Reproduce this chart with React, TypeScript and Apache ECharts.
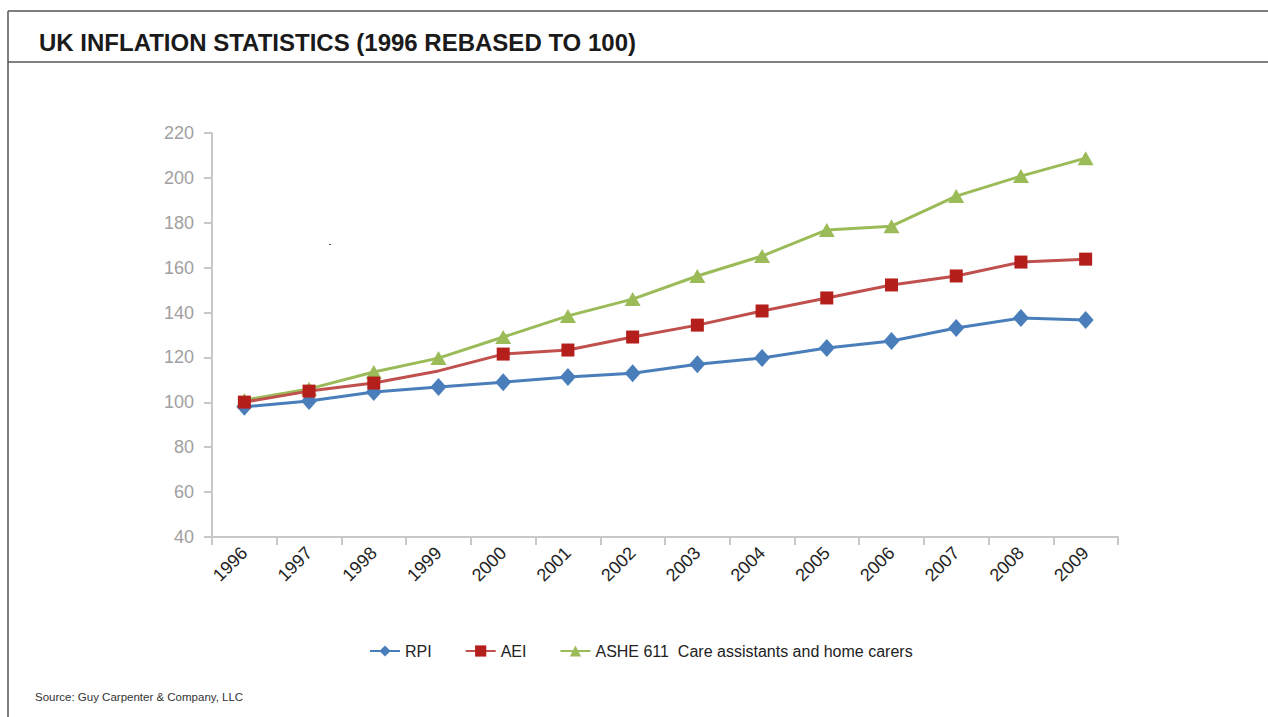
import React, { useEffect, useRef } from "react";
import * as echarts from "echarts";

const years = ["1996", "1997", "1998", "1999", "2000", "2001", "2002", "2003", "2004", "2005", "2006", "2007", "2008", "2009"];
const rpi = [98, 100.6, 104.6, 106.8, 109, 111.3, 113, 117, 119.7, 124.2, 127.3, 133.1, 137.6, 136.7];
const aei = [100.1, 105, 108.6, 114, 121.5, 123.3, 129.1, 134.4, 140.7, 146.5, 152.3, 156.3, 162.5, 163.8];
const ashe = [101, 106, 113.5, 119.7, 129.1, 138.5, 146, 156.3, 165.2, 176.8, 178.5, 191.9, 200.8, 208.8];
const seriesNames = ["RPI", "AEI", "ASHE 611  Care assistants and home carers"];
const aeiHiddenMarker = 3; // 1999 has no marker in the reference

export default function App() {
  const ref = useRef<HTMLDivElement>(null);
  useEffect(() => {
    if (!ref.current) return;
    const chart = echarts.init(ref.current, null, { renderer: "svg" });
    const font = "'Liberation Sans', Arial, sans-serif";
    chart.setOption({
      animation: false,
      backgroundColor: "#ffffff",
      textStyle: { fontFamily: font },
      title: {
        text: "UK INFLATION STATISTICS (1996 REBASED TO 100)",
        left: 34,
        top: 25,
        textStyle: { fontFamily: font, fontSize: 24, fontWeight: "bold", color: "#1a1a1a" },
      },
      grid: { left: 212, right: 150, top: 133, bottom: 180, containLabel: false },
      legend: {
        left: 364,
        top: 638,
        itemWidth: 30,
        itemHeight: 14,
        itemGap: 33,
        textStyle: { fontFamily: font, fontSize: 16, color: "#222" },
        data: seriesNames,
      },
      xAxis: {
        type: "category",
        data: years,
        boundaryGap: true,
        axisLine: { show: true, lineStyle: { color: "#c8c8c8", width: 2 } },
        axisTick: { show: true, length: 8, lineStyle: { color: "#c8c8c8", width: 2 } },
        axisLabel: { rotate: 45, fontSize: 18, color: "#222", margin: 13, interval: 0, fontFamily: font },
        splitLine: { show: false },
      },
      yAxis: {
        type: "value",
        min: 40,
        max: 220,
        interval: 20,
        axisLine: { show: true, lineStyle: { color: "#c8c8c8", width: 2 } },
        axisTick: { show: true, length: 8, lineStyle: { color: "#c8c8c8", width: 2 } },
        axisLabel: { fontSize: 18, color: "#a0a0a0", margin: 18, fontFamily: font },
        splitLine: { show: false },
      },
      series: [
        {
          name: seriesNames[0],
          type: "line",
          data: rpi,
          symbol: "diamond",
          symbolSize: [16, 18],
          lineStyle: { color: "#4a7ebb", width: 3 },
          itemStyle: { color: "#4a7ebb" },
          z: 3,
        },
        {
          name: seriesNames[1],
          type: "line",
          data: aei.map((v, i) => (i === aeiHiddenMarker ? { value: v, symbol: "none" } : v)),
          symbol: "rect",
          symbolSize: 13,
          lineStyle: { color: "#c0504d", width: 3 },
          itemStyle: { color: "#b41f1c" },
          z: 4,
        },
        {
          name: seriesNames[2],
          type: "line",
          data: ashe,
          symbol: "triangle",
          symbolSize: [16, 14],
          lineStyle: { color: "#9bbb59", width: 3 },
          itemStyle: { color: "#9bbb59" },
          z: 2,
        },
      ],
      graphic: [
        { type: "line", shape: { x1: 8, y1: 11, x2: 1268, y2: 11 }, style: { stroke: "#555", lineWidth: 1.5 } },
        { type: "line", shape: { x1: 8, y1: 62, x2: 1268, y2: 62 }, style: { stroke: "#555", lineWidth: 1.5 } },
        { type: "line", shape: { x1: 8, y1: 11, x2: 8, y2: 717 }, style: { stroke: "#555", lineWidth: 1.5 } },
        { type: "rect", shape: { x: 329, y: 244, width: 2, height: 1 }, style: { fill: "#555" } },
        {
          type: "text",
          left: 35,
          top: 691,
          style: {
            text: "Source: Guy Carpenter & Company, LLC",
            font: "11.5px 'Liberation Sans', Arial, sans-serif",
            fill: "#333",
          },
        },
      ],
    });
    return () => chart.dispose();
  }, []);
  return <div ref={ref} style={{ position: "absolute", left: 0, top: 0, width: 1268, height: 717 }} />;
}
